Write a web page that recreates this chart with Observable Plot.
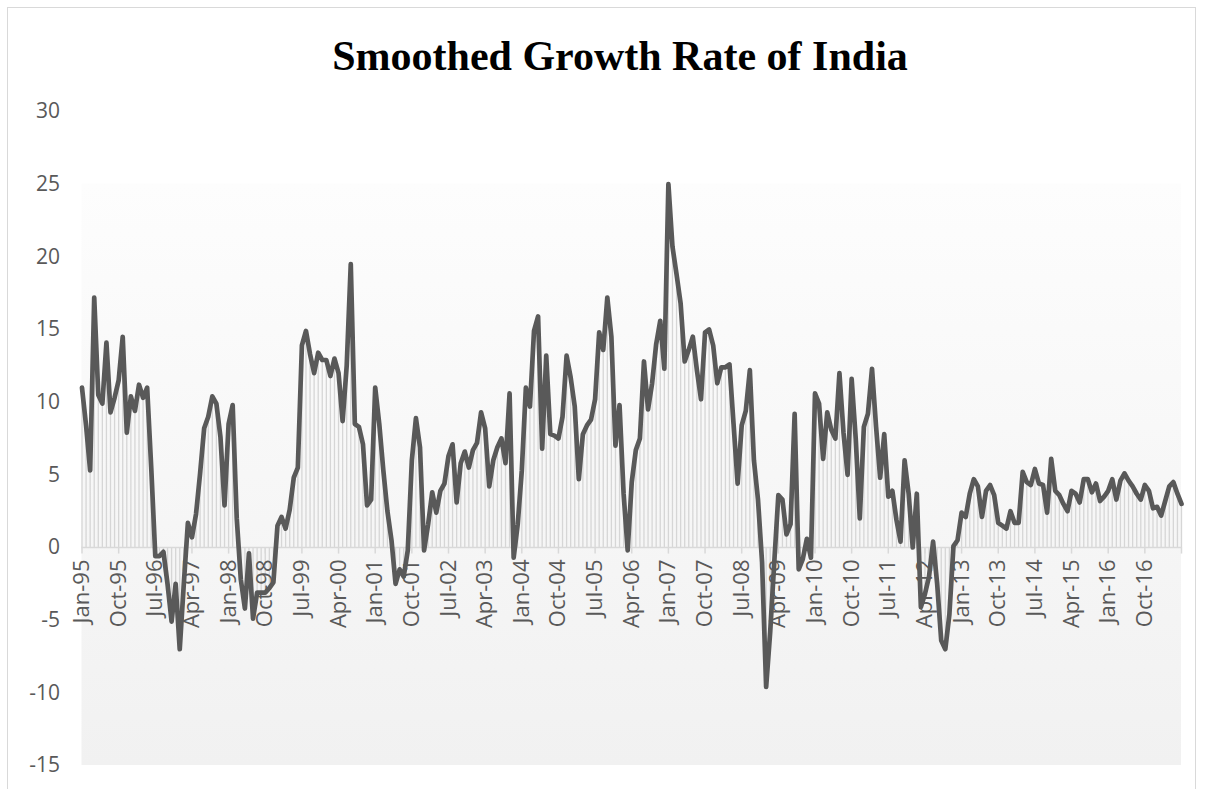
<!DOCTYPE html>
<html>
<head>
<meta charset="utf-8">
<script src="https://cdn.jsdelivr.net/npm/d3@7"></script>
<script src="https://cdn.jsdelivr.net/npm/@observablehq/plot@0.6"></script>
<style>
  html, body { margin: 0; padding: 0; background: #ffffff; }
  #page { position: relative; width: 1205px; height: 789px; overflow: hidden; }
  #border { position: absolute; left: 7px; top: 7px; width: 1189px; height: 790px; border: 1px solid #d9d9d9; box-sizing: border-box; }
  #title { position: absolute; left: 30px; width: 1180px; top: 35px; text-align: center;
           font: bold 42px/42px "Liberation Serif", "Times New Roman", serif; color: #000; }
  #chart { position: absolute; left: 0; top: 90px; }
</style>
</head>
<body>
<div id="page">
  <div id="border"></div>
  <div id="title"></div>
  <div id="chart"></div>
</div>
<script>
const title = "Smoothed Growth Rate of India";

// Monthly smoothed growth rate, Jan-95 (index 0) to Jul-17 (index 270)
const growth = [
  11.0, 8.4, 5.3, 17.2, 10.5, 9.9, 14.1, 9.3, 10.3, 11.5, 14.5, 7.9,
  10.4, 9.4, 11.2, 10.3, 11.0, 5.5, -0.6, -0.6, -0.3, -2.5, -5.1, -2.5,
  -7.0, -2.5, 1.7, 0.7, 2.3, 5.1, 8.2, 9.0, 10.4, 9.9, 7.6, 2.9,
  8.5, 9.8, 2.0, -2.2, -4.2, -0.4, -4.9, -3.1, -3.1, -3.1, -2.8, -2.4,
  1.5, 2.1, 1.3, 2.6, 4.8, 5.5, 13.9, 14.9, 13.3, 12.0, 13.4, 12.9,
  12.9, 11.8, 13.0, 12.0, 8.7, 12.5, 19.5, 8.5, 8.3, 7.1, 2.9, 3.3,
  11.0, 8.5, 5.3, 2.5, 0.5, -2.5, -1.5, -2.0, -0.2, 6.0, 8.9, 6.9,
  -0.2, 1.6, 3.8, 2.4, 3.9, 4.4, 6.3, 7.1, 3.1, 5.8, 6.6, 5.5,
  6.7, 7.2, 9.3, 8.2, 4.2, 6.0, 6.9, 7.5, 5.8, 10.6, -0.7, 1.6,
  5.3, 11.0, 9.7, 14.9, 15.9, 6.8, 13.2, 7.8, 7.7, 7.5, 9.0, 13.2,
  11.7, 9.7, 4.7, 7.8, 8.4, 8.8, 10.2, 14.8, 13.6, 17.2, 14.5, 7.0,
  9.8, 3.7, -0.2, 4.5, 6.7, 7.5, 12.8, 9.5, 11.3, 14.0, 15.6, 12.3,
  25.0, 20.7, 18.8, 16.8, 12.8, 13.6, 14.5, 12.2, 10.2, 14.8, 15.0, 13.9,
  11.3, 12.4, 12.4, 12.6, 8.5, 4.4, 8.4, 9.4, 12.2, 6.0, 3.3, -1.0,
  -9.6, -5.8, -1.0, 3.6, 3.3, 0.9, 1.6, 9.2, -1.5, -0.8, 0.6, -0.7,
  10.6, 9.9, 6.1, 9.3, 8.1, 7.5, 12.0, 7.9, 5.0, 11.6, 7.5, 2.0,
  8.3, 9.2, 12.3, 8.3, 4.8, 7.8, 3.5, 3.9, 1.9, 0.4, 6.0, 3.7,
  0.0, 3.7, -4.1, -3.2, -2.0, 0.4, -2.5, -6.4, -7.0, -4.6, 0.1, 0.5,
  2.4, 2.1, 3.7, 4.7, 4.2, 2.1, 3.9, 4.3, 3.6, 1.7, 1.5, 1.3,
  2.5, 1.7, 1.7, 5.2, 4.5, 4.3, 5.4, 4.4, 4.3, 2.4, 6.1, 3.9,
  3.6, 3.0, 2.5, 3.9, 3.7, 3.1, 4.7, 4.7, 3.8, 4.4, 3.2, 3.5,
  3.9, 4.7, 3.3, 4.6, 5.1, 4.6, 4.2, 3.7, 3.3, 4.3, 3.9, 2.7,
  2.8, 2.2, 3.2, 4.2, 4.5, 3.7, 3.0
];

// Category axis labels, shown every 9 months
const tickLabels = ["Jan-95","Oct-95","Jul-96","Apr-97","Jan-98","Oct-98","Jul-99","Apr-00",
  "Jan-01","Oct-01","Jul-02","Apr-03","Jan-04","Oct-04","Jul-05","Apr-06","Jan-07","Oct-07",
  "Jul-08","Apr-09","Jan-10","Oct-10","Jul-11","Apr-12","Jan-13","Oct-13","Jul-14","Apr-15",
  "Jan-16","Oct-16"];
const labelStep = 9;
const yTicks = [-15, -10, -5, 0, 5, 10, 15, 20, 25, 30];

const data = growth.map((v, i) => ({i, v}));
const tickIdx = d3.range(0, growth.length, labelStep);
const labelData = tickLabels.map((t, k) => ({i: k * labelStep, t}));

document.getElementById("title").textContent = title;

const plot = Plot.plot({
  width: 1205,
  height: 699,
  marginTop: 21,
  marginBottom: 24,
  marginLeft: 81.5,
  marginRight: 24,
  style: {color: "#595959", fontFamily: "'Open Sans', sans-serif", fontSize: "21px", background: "transparent", overflow: "visible"},
  x: {type: "linear", domain: [0, growth.length - 1], axis: null},
  y: {domain: [-15, 30], axis: null},
  marks: [
    Plot.rect([0], {y1: -15, y2: 25, fill: "url(#plotGrad)"}),
    Plot.ruleX(data, {x: "i", y1: 0, y2: "v", stroke: "#d6d6d6", strokeWidth: 1.3}),
    Plot.ruleY([0], {stroke: "#d9d9d9", strokeWidth: 1.5}),
    Plot.ruleX(tickIdx, {x: d => d, y1: 0, y2: -0.45, stroke: "#d9d9d9", strokeWidth: 1.5}),
    Plot.axisY({ticks: yTicks, tickSize: 0, tickPadding: 22, fontSize: 21, label: null,
                tickFormat: d => String(d)}),
    Plot.text(labelData, {x: "i", y: 0, text: "t", rotate: -90, textAnchor: "end", dy: 12,
                          fill: "#595959", fontSize: 22, style: "letter-spacing:0.6px"}),
    Plot.line(data, {x: "i", y: "v", stroke: "#595959", strokeWidth: 4.7,
                     strokeLinejoin: "round", strokeLinecap: "round"})
  ]
});

const svg = d3.select(plot);
svg.selectAll("text").filter(function() { return this.textContent.length > 3; });
const defs = svg.insert("defs", ":first-child");
const grad = defs.append("linearGradient").attr("id", "plotGrad")
  .attr("x1", 0).attr("y1", 0).attr("x2", 0).attr("y2", 1);
grad.append("stop").attr("offset", "0%").attr("stop-color", "#fdfdfd");
grad.append("stop").attr("offset", "100%").attr("stop-color", "#f1f1f1");

document.getElementById("chart").appendChild(plot);
</script>
</body>
</html>
